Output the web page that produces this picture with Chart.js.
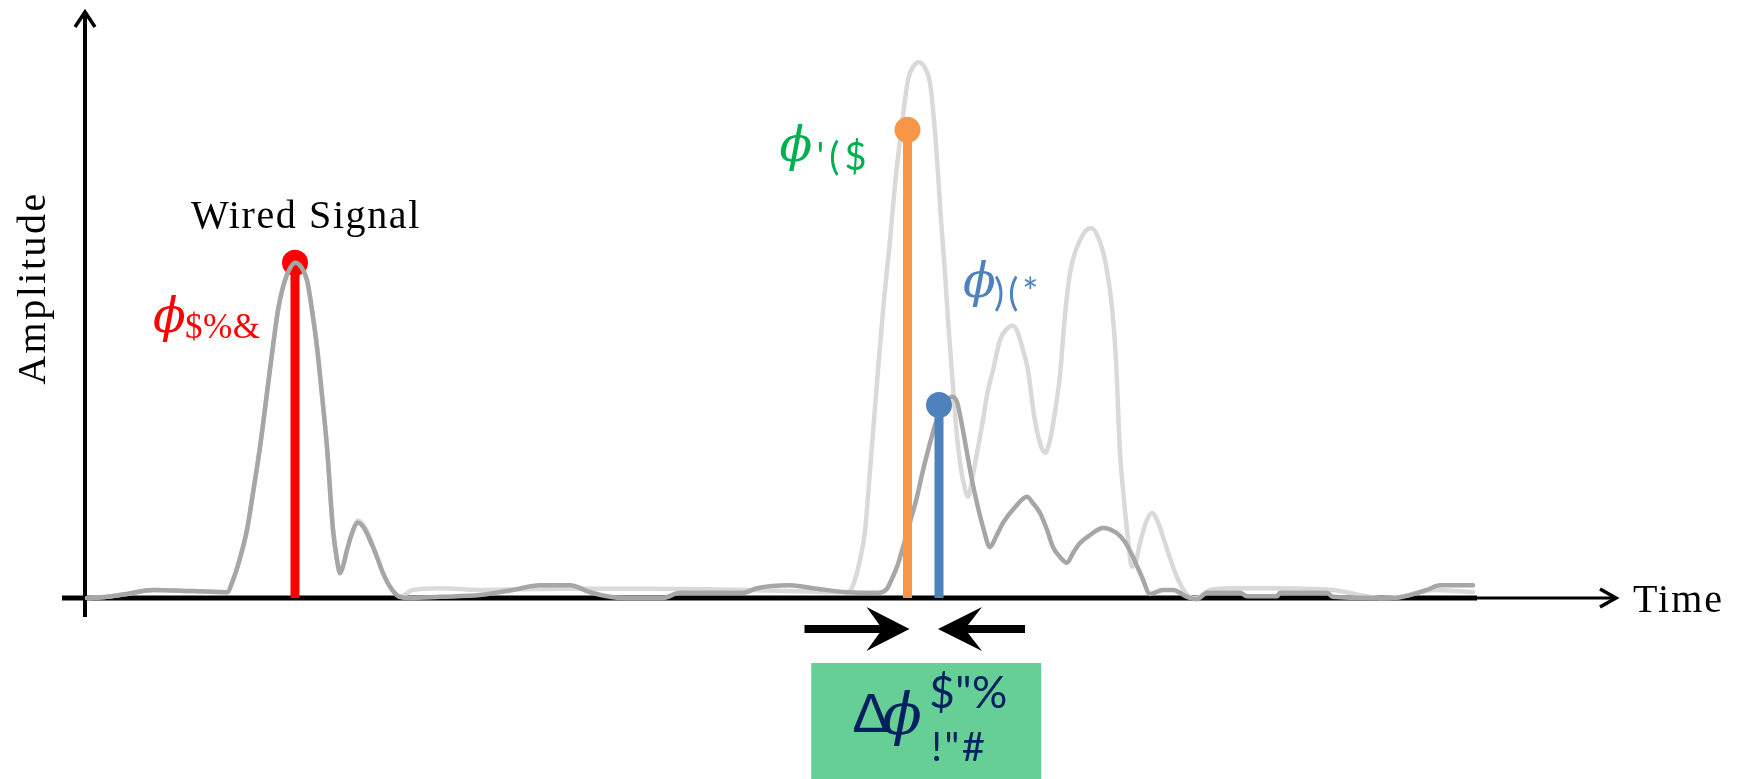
<!DOCTYPE html>
<html>
<head>
<meta charset="utf-8">
<script src="https://cdn.jsdelivr.net/npm/chart.js@4.4.1/dist/chart.umd.min.js"></script>
<style>
  html, body { margin: 0; padding: 0; background: #ffffff; }
  canvas { display: block; }
</style>
</head>
<body>
<canvas id="chart" width="1741" height="779"></canvas>
<script>
// Trace sampled from the combined wired + wireless capture (time, amplitude)
const wiredTime = [0.2, 2.2, 4.2, 6.8, 10.8, 14.2, 14.8, 15.5, 16.2, 16.8, 17.5, 18.2, 18.8, 19.3, 19.8, 20.4, 21.0, 21.6, 22.2, 22.7, 23.2, 23.7, 24.2, 24.8, 25.2, 25.5, 25.8, 26.2, 26.7, 27.3, 27.9, 28.5, 29.2, 29.8, 30.6, 31.5, 32.5, 35.5, 39.5, 42.8, 45.5, 48.5, 50.5, 52.5, 53.8, 57.8, 59.5, 65.8, 67.2, 70.5, 72.8, 76.2, 79.3, 80.2, 80.5, 81.2, 81.8, 82.5, 83.2, 83.8, 84.5, 85.0, 85.5, 86.1, 86.7, 87.2, 87.7, 88.2, 88.7, 89.2, 89.8, 90.5, 91.1, 91.8, 93.0, 94.2, 94.8, 95.5, 96.2, 96.8, 97.5, 98.2, 98.8, 99.5, 100.5, 101.8, 103.2, 104.0, 104.8, 105.7, 106.5, 107.8, 108.8, 110.2, 111.2, 112.2, 115.5, 116.2, 119.2, 119.5, 124.2, 124.8, 128.8, 130.8, 132.5, 134.2, 135.5, 138.8];
const wiredAmp = [0, 0.2, 0.7, 1.4, 1.2, 1.0, 3.1, 6.9, 11.8, 18.2, 26.1, 35.5, 43.6, 49.8, 53.8, 56.7, 58.0, 57.3, 55.0, 49.8, 43.4, 35.1, 26.1, 11.8, 6.6, 4.3, 5.5, 8.3, 11.2, 13.0, 12.1, 10.0, 7.1, 4.3, 1.7, 0.2, 0, 0.2, 0.5, 1.4, 2.2, 2.2, 1.0, 0.2, 0, 0, 0.9, 0.9, 1.7, 2.2, 1.7, 1.0, 0.9, 1.6, 2.6, 5.4, 8.8, 13.1, 17.5, 22.1, 26.8, 29.9, 32.0, 33.9, 34.8, 33.9, 29.9, 25.1, 20.4, 16.4, 12.3, 8.8, 10.6, 13.0, 15.7, 17.5, 16.4, 14.7, 11.8, 8.8, 7.1, 6.1, 7.8, 9.5, 10.9, 12.1, 11.2, 9.7, 7.1, 3.6, 0.7, 1.4, 1.4, 0.2, -0.2, 0.9, 0.9, 0.3, 0.3, 0.9, 0.9, 0.2, 0, 0, 0.5, 1.4, 2.2, 2.2];

// Second trace: strong multipath response
const wirelessTime = [0.2, 2.2, 4.2, 6.8, 10.8, 14.2, 14.8, 15.5, 16.2, 16.8, 17.5, 18.2, 18.8, 19.3, 19.8, 20.4, 21.0, 21.6, 22.2, 22.7, 23.2, 23.7, 24.2, 24.8, 25.2, 25.5, 25.8, 26.2, 26.7, 27.3, 27.9, 28.5, 29.2, 29.8, 30.6, 31.5, 32.8, 35.5, 39.5, 47.5, 56.5, 66.5, 76.2, 76.8, 77.5, 78.0, 78.5, 79.3, 79.9, 80.5, 81.0, 81.5, 82.3, 82.8, 83.4, 84.0, 84.5, 84.9, 85.3, 85.6, 86.0, 86.3, 86.7, 87.2, 87.5, 87.8, 88.3, 88.7, 89.2, 89.8, 90.2, 90.8, 91.5, 92.1, 92.8, 93.3, 93.8, 94.3, 94.9, 95.5, 96.0, 96.5, 97.0, 97.5, 98.0, 98.5, 99.5, 100.6, 101.5, 102.1, 102.7, 103.1, 103.5, 103.9, 104.2, 104.7, 105.1, 105.5, 106.1, 106.7, 107.3, 107.8, 108.5, 109.2, 110.0, 110.8, 111.2, 112.5, 114.8, 118.2, 124.8, 127.5, 129.8, 131.5, 133.2, 134.8, 138.8];
const wirelessAmp = [0, 0.2, 0.7, 1.4, 1.2, 1.0, 3.1, 6.9, 11.8, 18.2, 26.1, 35.5, 43.6, 49.8, 53.8, 56.7, 58.0, 57.3, 55.0, 49.8, 43.4, 35.1, 26.1, 11.8, 6.6, 4.3, 5.5, 8.3, 11.2, 13.4, 12.5, 10.4, 7.1, 4.3, 1.7, 0.2, 1.4, 1.7, 1.4, 1.6, 1.6, 1.4, 1.0, 2.2, 6.6, 11.6, 22.1, 39.4, 51.6, 61.9, 71.5, 79.2, 89.6, 91.9, 92.7, 91.7, 89.1, 82.7, 73.5, 65.4, 56.2, 48.1, 38.9, 27.9, 23.5, 20.4, 17.5, 20.4, 25.1, 30.8, 35.1, 39.4, 44.6, 46.4, 47.1, 45.8, 42.9, 39.4, 31.7, 26.8, 25.1, 27.3, 32.2, 38.6, 49.0, 56.2, 61.9, 64.0, 61.6, 57.6, 50.3, 41.2, 25.1, 17.0, 11.8, 5.4, 6.4, 9.5, 13.1, 14.7, 13.1, 10.6, 6.9, 3.6, 1.0, 0, 0, 1.4, 1.7, 1.7, 1.4, 0.5, 0, 0.2, 0.9, 1.4, 1.0];

// Detected phase peaks: wired, first wireless, second wireless
const peakTime = [21.0, 82.25, 85.4];
const peakAmp = [58.0, 81.0, 33.4];
const peakColors = ['#ff0000', '#f79646', '#4f81bd'];
const peakLabelColors = ['#ff0000', '#00b050', '#4f81bd'];
const peakSubscripts = ['$%&', '\'($', ')(*'];

// Axis and box captions
const axisTitles = { x: 'Time', y: 'Amplitude' };
const wiredCaption = 'Wired Signal';
const deltaSup = '$"%';
const deltaSub = '!"#';

const pairs = (xs, ys) => xs.map((v, i) => ({ x: v, y: ys[i] }));

const stemDataset = (i, order) => ({
  data: [{ x: peakTime[i], y: 0 }, { x: peakTime[i], y: peakAmp[i] }],
  borderColor: peakColors[i],
  backgroundColor: peakColors[i],
  borderWidth: 9,
  borderCapStyle: 'butt',
  pointRadius: [0, 13],
  pointHoverRadius: [0, 13],
  pointBorderWidth: 0,
  pointBackgroundColor: peakColors[i],
  clip: false,
  order
});

const traceDataset = (xs, ys, color, order) => ({
  data: pairs(xs, ys),
  borderColor: color,
  borderWidth: 4.5,
  pointRadius: 0,
  cubicInterpolationMode: 'monotone',
  borderJoinStyle: 'round',
  borderCapStyle: 'round',
  clip: false,
  order
});

function line(ctx, pts) {
  ctx.beginPath();
  ctx.moveTo(pts[0][0], pts[0][1]);
  for (let k = 1; k < pts.length; k++) ctx.lineTo(pts[k][0], pts[k][1]);
  ctx.stroke();
}

function poly(ctx, pts) {
  ctx.beginPath();
  ctx.moveTo(pts[0][0], pts[0][1]);
  for (let k = 1; k < pts.length; k++) ctx.lineTo(pts[k][0], pts[k][1]);
  ctx.closePath();
  ctx.fill();
}

const PHI = '\u03D5';
const phiFont = 'italic 48px "DejaVu Serif"';

function phiLabel(ctx, left, base, color, sub, subFont, subDx, subDy, spacing) {
  ctx.fillStyle = color;
  ctx.font = phiFont;
  ctx.letterSpacing = '0px';
  ctx.fillText(PHI, left, base);
  ctx.font = subFont;
  ctx.letterSpacing = spacing;
  ctx.fillText(sub, left + subDx, base + subDy);
  ctx.letterSpacing = '0px';
}

const decorations = {
  id: 'decorations',
  beforeDraw(chart) {
    const { ctx, width, height } = chart;
    ctx.save();
    ctx.fillStyle = '#ffffff';
    ctx.fillRect(0, 0, width, height);
    ctx.restore();
  },
  beforeDatasetsDraw(chart) {
    const { ctx, scales: { x, y } } = chart;
    const x0 = x.getPixelForValue(0);
    const y0 = y.getPixelForValue(0);
    const top = y.getPixelForValue(y.max);
    const traceEnd = x.getPixelForValue(wiredTime[wiredTime.length - 1]);
    ctx.save();
    ctx.strokeStyle = '#000000';
    ctx.lineCap = 'butt';
    // vertical axis with open arrow head
    ctx.lineWidth = 4;
    line(ctx, [[x0, y0 + 19], [x0, top - 8]]);
    ctx.lineWidth = 3.5;
    ctx.lineJoin = 'miter';
    line(ctx, [[x0 - 10, top + 7], [x0, top - 8], [x0 + 10, top + 7]]);
    // horizontal axis: heavy under the traces, lighter out to the arrow
    ctx.lineWidth = 5;
    line(ctx, [[x0 - 23, y0], [traceEnd + 4, y0]]);
    ctx.lineWidth = 3;
    line(ctx, [[traceEnd + 4, y0], [x.right + 1, y0]]);
    ctx.lineWidth = 3.5;
    line(ctx, [[x.right - 15, y0 - 9], [x.right + 1, y0], [x.right - 15, y0 + 9]]);
    ctx.restore();
  },
  afterDatasetsDraw(chart) {
    const { ctx, scales: { x, y } } = chart;
    const x0 = x.getPixelForValue(0);
    const y0 = y.getPixelForValue(0);
    const px = peakTime.map(t => x.getPixelForValue(t));
    const py = peakAmp.map(a => y.getPixelForValue(a));
    ctx.save();
    ctx.textAlign = 'left';
    ctx.textBaseline = 'alphabetic';

    // axis titles
    ctx.fillStyle = '#000000';
    ctx.font = '40px "Liberation Serif"';
    ctx.letterSpacing = '2px';
    ctx.fillText(axisTitles.x, x.right + 18, y0 + 14);
    ctx.save();
    ctx.translate(x0 - 40, 288);
    ctx.rotate(-Math.PI / 2);
    ctx.textAlign = 'center';
    ctx.letterSpacing = '2.5px';
    ctx.fillText(axisTitles.y, 0, 0);
    ctx.restore();

    // caption over the wired peak
    ctx.textAlign = 'center';
    ctx.letterSpacing = '1.6px';
    ctx.fillText(wiredCaption, px[0] + 11, py[0] - 35);
    ctx.textAlign = 'left';
    ctx.letterSpacing = '0px';

    // phase labels
    phiLabel(ctx, px[0] - 142, py[0] + 69, peakLabelColors[0], peakSubscripts[0],
      '35px "Liberation Serif"', 32, 6, '0.5px');
    phiLabel(ctx, px[1] - 128, py[1] + 31, peakLabelColors[1], peakSubscripts[1],
      '38px Lato', 37, 9, '5px');
    phiLabel(ctx, px[2] + 24, py[2] - 108, peakLabelColors[2], peakSubscripts[2],
      '38px Lato', 31, 9, '4px');

    // converging arrows between the two wireless peaks
    const ay = y0 + 31;
    ctx.fillStyle = '#000000';
    ctx.strokeStyle = '#000000';
    ctx.lineWidth = 8;
    const rt = px[1] + 2;
    line(ctx, [[rt - 105, ay], [rt - 24, ay]]);
    poly(ctx, [[rt, ay], [rt - 43, ay - 22], [rt - 30, ay - 4], [rt - 30, ay + 4], [rt - 43, ay + 22]]);
    const lt = px[2] - 1;
    line(ctx, [[lt + 24, ay], [lt + 87, ay]]);
    poly(ctx, [[lt, ay], [lt + 44, ay - 22], [lt + 30, ay - 4], [lt + 30, ay + 4], [lt + 44, ay + 22]]);

    // phase difference box
    const mid = (px[1] + px[2]) / 2;
    const bx = mid - 112;
    const by = y0 + 65;
    ctx.fillStyle = '#66cf95';
    ctx.fillRect(bx, by, 230, chart.height - by);
    ctx.fillStyle = '#002060';
    ctx.font = '56px "Liberation Sans"';
    ctx.fillText('\u0394', bx + 41, by + 69);
    ctx.font = 'italic 58px "DejaVu Serif"';
    ctx.fillText(PHI, bx + 71, by + 71);
    ctx.font = '44px Lato';
    ctx.letterSpacing = '0.5px';
    ctx.fillText(deltaSup, bx + 118, by + 45);
    ctx.font = '40px Lato';
    ctx.letterSpacing = '2.5px';
    ctx.fillText(deltaSub, bx + 120, by + 98);
    ctx.restore();
  }
};

new Chart(document.getElementById('chart'), {
  type: 'line',
  data: {
    datasets: [
      traceDataset(wirelessTime, wirelessAmp, '#d9d9d9', 5),
      stemDataset(0, 4),
      traceDataset(wiredTime, wiredAmp, '#a6a6a6', 3),
      stemDataset(1, 2),
      stemDataset(2, 1)
    ]
  },
  options: {
    responsive: false,
    devicePixelRatio: 1,
    animation: false,
    layout: { padding: { left: 85, right: 126, top: 20, bottom: 181 } },
    scales: {
      x: { type: 'linear', min: 0, max: 153, display: false },
      y: { type: 'linear', min: 0, max: 100, display: false }
    },
    plugins: { legend: { display: false }, tooltip: { enabled: false } },
    events: []
  },
  plugins: [decorations]
});
</script>
</body>
</html>
